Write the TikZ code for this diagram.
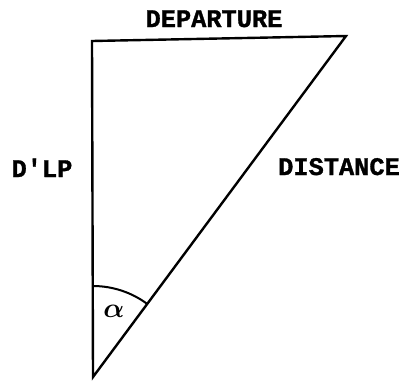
\documentclass[tikz,border=0pt]{standalone}
\usepackage{amsmath,amssymb}
\usepackage{fontspec}
\newfontfamily\lblfont{Liberation Mono Bold}[FakeBold=1.2]
\usepackage{tikz}
\usetikzlibrary{calc}

\begin{document}
\begin{tikzpicture}[
    x=0.75pt, y=-0.75pt,
    side/.style={line width=1.8pt, line join=miter},
    lbl/.style={font=\fontsize{19}{22}\selectfont\lblfont, anchor=base, inner sep=0pt},
    angmark/.style={line width=1.5pt}
  ]
  \useasboundingbox (0,0) rectangle (403,380);
  \coordinate (tl) at (92,41);
  \coordinate (tr) at (346,36);
  \coordinate (apex) at (93,377);
  \draw[side] (apex) -- (tl) -- (tr) -- cycle;
  \draw[angmark] ($(apex)+(0,-91)$) arc[start angle=-90, end angle=-53.4, radius=91];
  \node[lbl] (dep) at (214,27) {DEPARTURE};
  \node[lbl] (dlp) at (42,177) {D'LP};
  \node[lbl] (dist) at (339,175) {DISTANCE};
  \node[anchor=base, inner sep=0pt, font=\fontsize{20}{24}\selectfont] (alpha) at (114,317) {$\boldsymbol{\alpha}$};
\end{tikzpicture}
\end{document}
